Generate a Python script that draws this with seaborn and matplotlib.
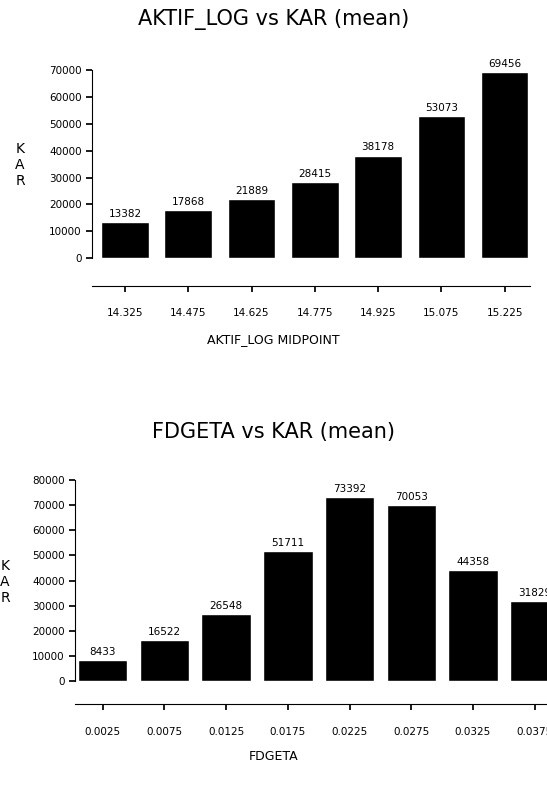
import matplotlib
matplotlib.use("Agg")
import matplotlib.pyplot as plt
import pandas as pd
import seaborn as sns

# Chart values
aktif_mid = ["14.325", "14.475", "14.625", "14.775", "14.925", "15.075", "15.225"]
aktif_kar = [13382, 17868, 21889, 28415, 38178, 53073, 69456]

fdgeta_mid = ["0.0025", "0.0075", "0.0125", "0.0175", "0.0225", "0.0275", "0.0325", "0.0375"]
fdgeta_kar = [8433, 16522, 26548, 51711, 73392, 70053, 44358, 31829]

sns.set_theme(style="white")
plt.rcParams["font.family"] = ["DejaVu Sans"]
plt.rcParams["text.color"] = "black"
plt.rcParams["xtick.color"] = "black"
plt.rcParams["ytick.color"] = "black"

W, H = 547, 786
fig = plt.figure(figsize=(W / 100, H / 100), dpi=100)


def panel(rect, cats, vals, xlim, ylim, yticks, width, offset, title, title_y, xlabel, xlabel_y, klab_x, klab_y):
    ax = fig.add_axes(rect)
    df = pd.DataFrame({"mid": cats, "kar": vals})
    sns.barplot(data=df, x="mid", y="kar", color="black", width=width, ax=ax, saturation=1)
    for i, v in enumerate(vals):
        ax.text(i, v + 1200, str(v), ha="center", va="bottom", fontsize=7.5)
    ax.set_xlim(*xlim)
    ax.set_ylim(*ylim)
    ax.set_yticks(yticks)
    ax.set_yticklabels([str(t) for t in yticks], fontsize=7.5)
    ax.tick_params(axis="x", labelsize=7.5, length=4, direction="out", bottom=True, pad=12)
    ax.tick_params(axis="y", length=4, direction="out", left=True)
    ax.set_xlabel("")
    ax.set_ylabel("")
    for s in ["top", "right"]:
        ax.spines[s].set_visible(False)
    ax.spines["left"].set_bounds(yticks[0], yticks[-1])
    ax.spines["bottom"].set_position(("outward", offset))
    for s in ["left", "bottom"]:
        ax.spines[s].set_color("black")
        ax.spines[s].set_linewidth(0.8)
    fig.text(0.5, 1 - title_y / H, title, ha="center", va="center", fontsize=15)
    fig.text(0.5, 1 - xlabel_y / H, xlabel, ha="center", va="center", fontsize=9)
    fig.text(klab_x / W, 1 - klab_y / H, "K\nA\nR", ha="center", va="center", fontsize=10, linespacing=1.2)
    return ax


panel([92 / W, 1 - 262 / H, 438 / W, 197 / H], aktif_mid, aktif_kar,
      (-0.52, 6.4), (-1500, 72000), list(range(0, 70001, 10000)), 0.75, 17,
      "AKTIF_LOG vs KAR (mean)", 20, "AKTIF_LOG MIDPOINT", 340, 20, 165)

panel([75 / W, 1 - 685 / H, 472 / W, 210 / H], fdgeta_mid, fdgeta_kar,
      (-0.45, 7.2), (-1500, 82000), list(range(0, 80001, 10000)), 0.8, 14,
      "FDGETA vs KAR (mean)", 432, "FDGETA", 757, 5, 582)

fig.savefig("out.png", dpi=100)
